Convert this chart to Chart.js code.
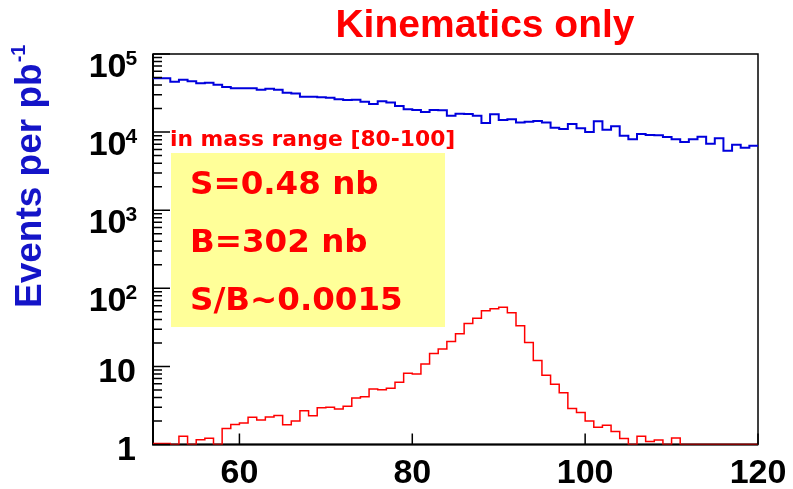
<!DOCTYPE html>
<html>
<head>
<meta charset="utf-8">
<title>Kinematics only</title>
<script src="https://cdn.jsdelivr.net/npm/chart.js@4.4.1/dist/chart.umd.min.js"></script>
<style>
  body { margin: 0; background: #fff; }
  #wrap { position: relative; width: 793px; height: 489px; }
</style>
</head>
<body>
<div id="wrap"><canvas id="massChart"></canvas></div>
<script>
// invariant mass bin edges (1 GeV bins, 50-120)
const massEdges = [
    50, 51, 52, 53, 54, 55, 56, 57, 58, 59,
    60, 61, 62, 63, 64, 65, 66, 67, 68, 69,
    70, 71, 72, 73, 74, 75, 76, 77, 78, 79,
    80, 81, 82, 83, 84, 85, 86, 87, 88, 89,
    90, 91, 92, 93, 94, 95, 96, 97, 98, 99,
    100, 101, 102, 103, 104, 105, 106, 107, 108, 109,
    110, 111, 112, 113, 114, 115, 116, 117, 118, 119,
    120
];

// background events per pb^-1, one entry per bin
const backgroundRate = [
    48800, 48800, 44200, 46900, 44700, 42100, 43000, 40500, 37800, 36300,
    36300, 36300, 34900, 36000, 34900, 32000, 31300, 28400, 28400, 27900,
    27600, 26300, 25800, 26000, 24500, 22900, 24800, 24000, 21600, 19600,
    19200, 18100, 19200, 19000, 16200, 17200, 17100, 16200, 13100, 16900,
    14300, 14600, 13300, 13600, 13900, 13300, 11400, 10960, 12700, 11170,
    10030, 13740, 10740, 11860, 9000, 8080, 9460, 9180, 9090, 8650,
    8080, 7470, 8080, 8740, 7110, 8320, 5780, 6900, 6320, 6700
];

// signal (Z peak) events per pb^-1
const signalRate = [
    1.03, 1.03, 1, 1.28, 1, 1.15, 1.2, 1, 1.6, 1.81,
    1.88, 2.23, 2.06, 2.25, 2.36, 1.79, 2.0, 2.71, 2.34, 2.96,
    2.99, 2.85, 3.08, 3.94, 4.1, 5.14, 5.04, 5.24, 6.25, 8.15,
    8.0, 10.7, 14.6, 16.7, 20.9, 26.2, 35.3, 41.3, 51.7, 54.8,
    57.0, 48.7, 33.2, 20.3, 11.9, 7.69, 5.89, 4.61, 2.90, 2.56,
    2.0, 1.66, 1.76, 1.47, 1.19, 1, 1.28, 1.09, 1.14, 1,
    1.21, 1, 1, 1, 1, 1, 1, 1, 1, 1
];

const xTicks = [60, 80, 100, 120];
const xTickLabels = ["60", "80", "100", "120"];
const yDecades = [1, 10, 100, 1000, 10000, 100000];
const yTickBase = ["1", "10", "10", "10", "10", "10"];
const yTickPower = ["", "", "2", "3", "4", "5"];

const summaryLines = ["S=0.48 nb", "B=302 nb", "S/B~0.0015"];

const BOLD = '"Liberation Sans", Arial, Helvetica, sans-serif';
const WIDE = '"DejaVu Sans", Verdana, sans-serif';

// histogram as step line: one point per low edge, last edge repeats the last bin
function histPoints(values) {
    return massEdges.map((x, i) => ({ x: x, y: values[Math.min(i, values.length - 1)] }));
}

// ROOT-like frame, ticks, labels and text boxes
const rootStyle = {
    id: "rootStyle",
    beforeDatasetsDraw(chart) {
        const ctx = chart.ctx;
        const { left, right, top, bottom } = chart.chartArea;
        ctx.save();
        // info pave
        ctx.fillStyle = "#ffff99";
        ctx.fillRect(171, 153, 274, 174);
        // frame
        ctx.strokeStyle = "#000";
        ctx.lineWidth = 1.5;
        ctx.strokeRect(left, top, right - left, bottom - top);
        ctx.lineWidth = 2;
        ctx.beginPath();
        ctx.moveTo(left, top);
        ctx.lineTo(left, bottom);
        ctx.lineTo(right, bottom);
        ctx.stroke();
        ctx.restore();
    },
    afterDatasetsDraw(chart) {
        const ctx = chart.ctx;
        const { left, bottom } = chart.chartArea;
        const xs = chart.scales.x;
        const ys = chart.scales.y;
        ctx.save();

        // y ticks (log: majors at decades, minors 2..9)
        ctx.strokeStyle = "#000";
        ctx.lineWidth = 1.5;
        ctx.beginPath();
        yDecades.forEach((d, i) => {
            const y = ys.getPixelForValue(d);
            ctx.moveTo(left, y);
            ctx.lineTo(left + 17, y);
            if (i < yDecades.length - 1) {
                for (let m = 2; m <= 9; m++) {
                    const ym = ys.getPixelForValue(d * m);
                    ctx.moveTo(left, ym);
                    ctx.lineTo(left + 9, ym);
                }
            }
        });
        // x ticks
        xTicks.forEach(v => {
            const x = xs.getPixelForValue(v);
            ctx.moveTo(x, bottom);
            ctx.lineTo(x, bottom - 11);
        });
        ctx.stroke();

        // x tick labels
        ctx.fillStyle = "#000";
        ctx.font = "bold 34px " + BOLD;
        ctx.textAlign = "center";
        ctx.textBaseline = "alphabetic";
        xTicks.forEach((v, i) => {
            ctx.fillText(xTickLabels[i], xs.getPixelForValue(v), 483);
        });

        // y tick labels with superscript powers
        yDecades.forEach((d, i) => {
            const y = ys.getPixelForValue(d);
            if (yTickPower[i] === "") {
                ctx.font = "bold 34px " + BOLD;
                ctx.textAlign = "right";
                ctx.fillText(yTickBase[i], 136, y + 15.5);
            } else {
                ctx.font = "bold 34px " + BOLD;
                ctx.textAlign = "right";
                ctx.fillText(yTickBase[i], 126.5, y + 22.5);
                ctx.font = "bold 21px " + BOLD;
                ctx.textAlign = "left";
                ctx.fillText(yTickPower[i], 125.5, y + 10.5);
            }
        });

        // title
        ctx.fillStyle = "#ff0000";
        ctx.font = "bold 39px " + BOLD;
        ctx.textAlign = "center";
        ctx.fillText("Kinematics only", 485, 37);

        // mass window caption and pave text
        ctx.textAlign = "left";
        ctx.font = "bold 21.8px " + WIDE;
        ctx.fillText("in mass range [80-100]", 170, 146);
        ctx.font = "bold 32.5px " + WIDE;
        summaryLines.forEach((t, i) => {
            ctx.fillText(t, 190, 194 + i * 58);
        });

        // y axis title
        ctx.fillStyle = "#1414c8";
        ctx.translate(41, 308);
        ctx.rotate(-Math.PI / 2);
        ctx.font = "bold 37px " + BOLD;
        const mainText = "Events per pb";
        ctx.fillText(mainText, 0, 0);
        const w = ctx.measureText(mainText).width;
        ctx.font = "bold 20px " + BOLD;
        ctx.fillText("-1", w + 1, -16);

        ctx.restore();
    }
};

let chart;

function initChart() {
    const ctx = document.getElementById("massChart").getContext("2d");
    chart = new Chart(ctx, {
        type: "line",
        data: {
            datasets: [{
                label: "Background",
                data: histPoints(backgroundRate),
                borderColor: "#0000dd",
                borderWidth: 2,
                stepped: true,
                pointRadius: 0,
                fill: false
            }, {
                label: "Signal",
                data: histPoints(signalRate),
                borderColor: "#ff0000",
                borderWidth: 1.5,
                stepped: true,
                pointRadius: 0,
                fill: false
            }]
        },
        options: {
            responsive: true,
            maintainAspectRatio: false,
            animation: false,
            events: [],
            layout: {
                padding: { left: 153, right: 35, top: 54, bottom: 44.5 }
            },
            scales: {
                x: { type: "linear", min: 50, max: 120, display: false },
                y: { type: "logarithmic", min: 1, max: 100000, display: false }
            },
            plugins: {
                legend: { display: false },
                tooltip: { enabled: false },
                title: { display: false }
            }
        },
        plugins: [rootStyle]
    });
}

document.addEventListener("DOMContentLoaded", function() {
    initChart();
});
</script>
</body>
</html>
